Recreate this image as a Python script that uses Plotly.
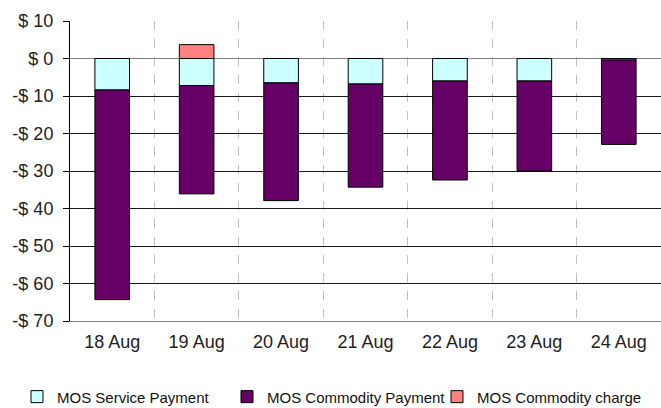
import plotly.graph_objects as go

dates = ["18 Aug", "19 Aug", "20 Aug", "21 Aug", "22 Aug", "23 Aug", "24 Aug"]
service_payment = [-8.4, -7.2, -6.5, -6.8, -6.0, -6.0, -0.4]
commodity_payment = [-55.9, -28.9, -31.4, -27.5, -26.4, -24.0, -22.5]
commodity_charge = [0, 3.7, 0, 0, 0, 0, 0]
y_ticks = [10, 0, -10, -20, -30, -40, -50, -60, -70]
y_tick_labels = ["$ 10", "$ 0", "-$ 10", "-$ 20", "-$ 30", "-$ 40", "-$ 50", "-$ 60", "-$ 70"]

line = dict(color="#000000", width=1)
fig = go.Figure()
fig.add_trace(go.Bar(x=dates, y=service_payment, name="MOS Service Payment",
                     marker=dict(color="#CCFFFF", line=line)))
fig.add_trace(go.Bar(x=dates, y=commodity_payment, name="MOS Commodity Payment",
                     marker=dict(color="#660066", line=line)))
fig.add_trace(go.Bar(x=dates, y=commodity_charge, name="MOS Commodity charge",
                     marker=dict(color="#FF8080", line=line)))

font = "Liberation Sans, Arial, sans-serif"
fig.update_layout(
    width=661, height=408,
    margin=dict(l=70, r=0, t=21, b=87, autoexpand=False),
    barmode="relative",
    bargap=0.59,
    plot_bgcolor="white",
    paper_bgcolor="white",
    font=dict(family=font, color="#000000"),
    showlegend=True,
    legend=dict(orientation="h", x=-0.0897, xanchor="left", y=-0.253, yanchor="middle",
                font=dict(size=15, family=font, color="#111"), traceorder="normal",
                itemwidth=30, entrywidth=165, entrywidthmode="pixels"),
)
fig.update_xaxes(
    type="category", tickson="boundaries", automargin=False,
    showgrid=True, gridcolor="#C0C0C0", griddash="dash", gridwidth=1,
    showline=True, linecolor="#808080", linewidth=1,
    ticks="", tickfont=dict(size=18, family=font, color="#222"),
    ticklabelstandoff=4,
)
fig.update_yaxes(
    range=[-70, 10], tickvals=y_ticks, ticktext=y_tick_labels, automargin=False,
    showgrid=True, gridcolor="#1a1a1a", gridwidth=1,
    zeroline=True, zerolinecolor="#808080", zerolinewidth=1,
    showline=True, linecolor="#000000", linewidth=1,
    ticks="outside", ticklen=6, tickcolor="#000000",
    tickfont=dict(size=18, family=font, color="#222"),
    ticklabelstandoff=6,
)
fig.write_html("out.html", config={"displayModeBar": False},
               post_script="document.body.style.margin='0';")
